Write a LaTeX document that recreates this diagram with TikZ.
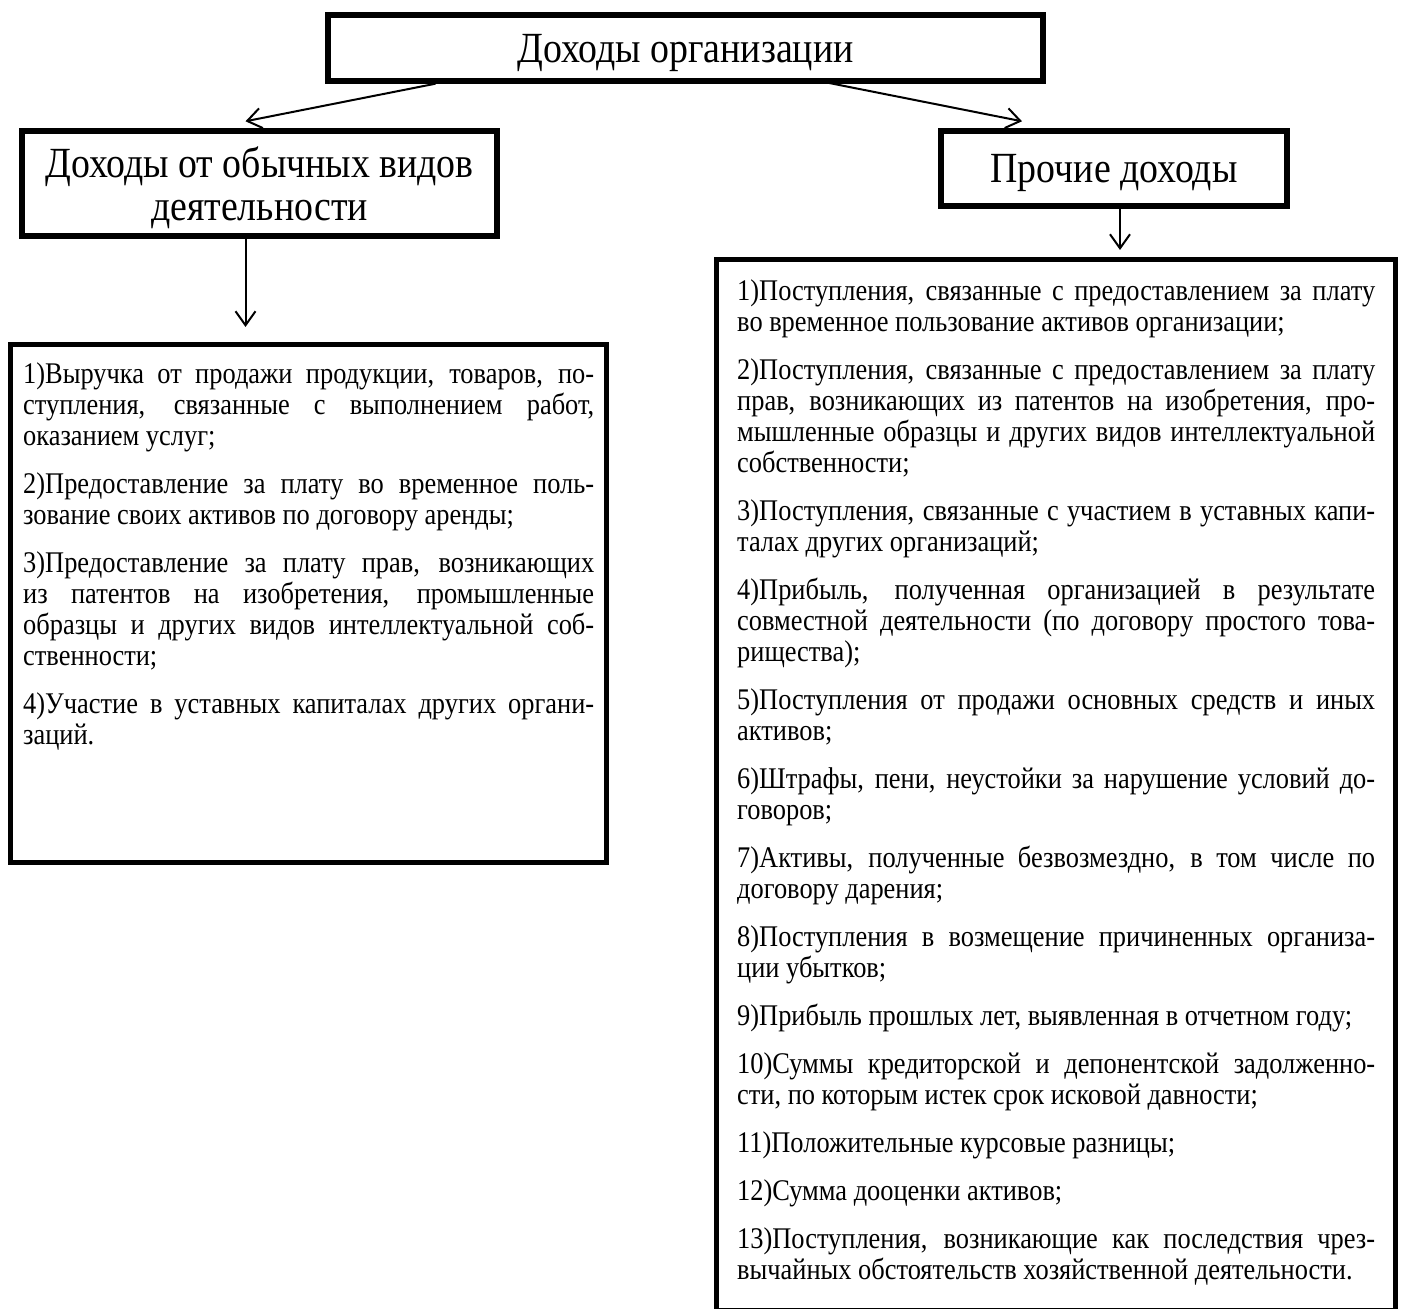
\documentclass[tikz,border=0pt]{standalone}
\usepackage{fontspec}
\setmainfont{Liberation Serif}[FakeStretch=0.88]
\usetikzlibrary{arrows.meta,calc}
\lineskiplimit=-\maxdimen

\newcommand{\listtext}[3]{\begin{minipage}[t][#1][t]{#2}%
    \fontsize{15}{15.5}\selectfont\lineskiplimit=-\maxdimen\setlength{\parindent}{0pt}\setlength{\parskip}{8.5pt}%
    \tolerance=10000 \hbadness=10000 #3\end{minipage}}

\begin{document}
\begin{tikzpicture}[x=0.5pt,y=-0.5pt,
    box/.style={draw,line width=2.7pt,inner sep=0pt},
    headbox/.style={box,font=\fontsize{21.5}{21.5}\selectfont,align=center,text depth=0pt},
    listbox/.style={box,anchor=north west,inner ysep=9pt},
    arr/.style={-{Straight Barb[length=7pt,width=10pt]},line width=1pt}]
    \useasboundingbox (0,0) rectangle (1408,1309);
    \node[headbox,minimum width=357.5pt,minimum height=33pt] (income) at (685.5,48) {Доходы организации};
    \node[headbox,minimum width=237.5pt,minimum height=52.5pt] (ordinary) at (259.5,183.5) {Доходы от обычных видов\\деятельности};
    \node[headbox,minimum width=173pt,minimum height=37.5pt] (other) at (1114,168.5) {Прочие доходы};
    \node[listbox,inner xsep=6.25pt] (ordlist) at (8,342) {\listtext{241pt}{285.5pt}{%
        1)Выручка от продажи продукции, товаров, по-\linebreak ступления, связанные с выполнением работ,\linebreak оказанием услуг;\par
        2)Предоставление за плату во временное поль-\linebreak зование своих активов по договору аренды;\par
        3)Предоставление за плату прав, возникающих\linebreak из патентов на изобретения, промышленные\linebreak образцы и других видов интеллектуальной соб-\linebreak ственности;\par
        4)Участие в уставных капиталах других органи-\linebreak заций.\par}};
    \node[listbox,inner xsep=10.25pt,inner ysep=10pt] (otherlist) at (714,257) {\listtext{505.5pt}{319pt}{%
        1)Поступления, связанные с предоставлением за плату\linebreak во временное пользование активов организации;\par
        2)Поступления, связанные с предоставлением за плату\linebreak прав, возникающих из патентов на изобретения, про-\linebreak мышленные образцы и других видов интеллектуальной\linebreak собственности;\par
        3)Поступления, связанные с участием в уставных капи-\linebreak талах других организаций;\par
        4)Прибыль, полученная организацией в результате\linebreak совместной деятельности (по договору простого това-\linebreak рищества);\par
        5)Поступления от продажи основных средств и иных\linebreak активов;\par
        6)Штрафы, пени, неустойки за нарушение условий до-\linebreak говоров;\par
        7)Активы, полученные безвозмездно, в том числе по\linebreak договору дарения;\par
        8)Поступления в возмещение причиненных организа-\linebreak ции убытков;\par
        9)Прибыль прошлых лет, выявленная в отчетном году;\par
        10)Суммы кредиторской и депонентской задолженно-\linebreak сти, по которым истек срок исковой давности;\par
        11)Положительные курсовые разницы;\par
        12)Сумма дооценки активов;\par
        13)Поступления, возникающие как последствия чрез-\linebreak вычайных обстоятельств хозяйственной деятельности.\par}};
    \draw[arr] ($(income.south)+(-250,0)$) -- ($(ordinary.north)+(-14,-7)$);
    \draw[arr] ($(income.south)+(132,-3)$) -- ($(other.north)+(-92,-7)$);
    \draw[arr] ($(ordinary.south)+(-14,0)$) coordinate (ordstart) -- (ordstart |- ordlist.north) [shorten >=7.5pt];
    \draw[arr] ($(other.south)+(6,0)$) coordinate (othstart) -- (othstart |- otherlist.north) [shorten >=3.5pt];
\end{tikzpicture}
\end{document}
